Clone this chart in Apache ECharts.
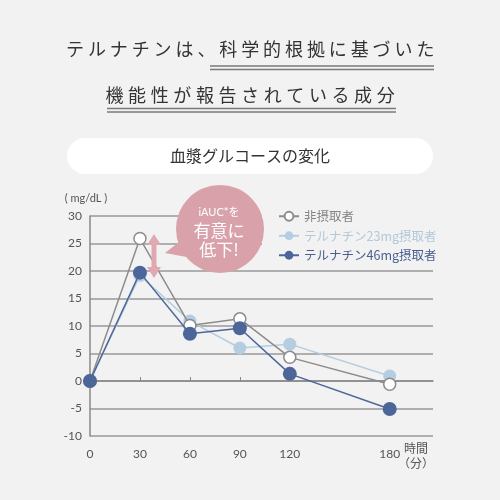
<!DOCTYPE html>
<html>
<head>
<meta charset="utf-8">
<script src="https://cdn.jsdelivr.net/npm/echarts@6/dist/echarts.min.js"></script>
<style>
  html, body { margin: 0; padding: 0; background: #f2f2f2; }
  #chart { width: 500px; height: 500px; }
</style>
</head>
<body>
<div id="chart"></div>
<script>
// minutes after intake
var times = [0, 30, 60, 90, 120, 180];
var tickTimes = [0, 30, 60, 90, 120, 180];
// blood glucose change (mg/dL)
var noIntake = [0, 25.9, 10.1, 11.3, 4.3, -0.6];
var dose23 = [0, 19.2, 10.9, 6.0, 6.7, 0.9];
var dose46 = [0, 19.7, 8.6, 9.6, 1.3, -5.1];
var seriesNames = ['非摂取者', 'テルナチン23mg摂取者', 'テルナチン46mg摂取者'];

var FONT = "Lato, 'Noto Sans CJK JP', sans-serif";
var JP = "'Noto Sans CJK JP', sans-serif";

function pairs(vals) {
  return times.map(function (t, i) { return [t, vals[i]]; });
}

// spaced-out heading text, one char at a time
function spacedText(str, x0, step, y) {
  return str.split('').map(function (ch, i) {
    return {
      type: 'text', x: x0 + i * step, y: y, z: 100,
      style: { text: ch, fill: '#333', font: '400 18px ' + JP, align: 'center', verticalAlign: 'middle' }
    };
  });
}

function doubleRule(x1, x2, y) {
  return [
    { type: 'line', z: 100, shape: { x1: x1, y1: y, x2: x2, y2: y }, style: { stroke: '#7a7a7a', lineWidth: 1.3 } },
    { type: 'line', z: 100, shape: { x1: x1, y1: y + 3.5, x2: x2, y2: y + 3.5 }, style: { stroke: '#7a7a7a', lineWidth: 1.3 } }
  ];
}

var pink = '#d9a2ab';
var graphics = []
  .concat(spacedText('テルナチンは、科学的根拠に基づいた', 75, 21.9, 49))
  .concat(doubleRule(210, 434, 66))
  .concat(spacedText('機能性が報告されている成分', 114.5, 22.6, 95))
  .concat(doubleRule(107, 396, 108.5))
  .concat([
    { type: 'rect', z: 100, shape: { x: 67, y: 138, width: 366, height: 36, r: 18 }, style: { fill: '#fff' } },
    { type: 'text', z: 101, x: 250, y: 156, style: { text: '血漿グルコースの変化', fill: '#333', font: '16px ' + JP, align: 'center', verticalAlign: 'middle' } },
    // speech bubble
    { type: 'polygon', z: 100, shape: { points: [[184, 238], [165, 253], [192, 258]] }, style: { fill: pink } },
    { type: 'circle', z: 100, shape: { cx: 220, cy: 229, r: 44 }, style: { fill: pink } },
    { type: 'text', z: 101, x: 219, y: 212, style: { text: 'iAUC*を', fill: '#fff', font: '11px ' + FONT, align: 'center', verticalAlign: 'middle' } },
    { type: 'text', z: 101, x: 219, y: 231, style: { text: '有意に', fill: '#fff', font: '17px ' + JP, align: 'center', verticalAlign: 'middle' } },
    { type: 'text', z: 101, x: 219, y: 250, style: { text: '低下!', fill: '#fff', font: '17px ' + JP, align: 'center', verticalAlign: 'middle' } },
    // double-headed arrow
    { type: 'polygon', z: 100, shape: { points: [
      [154, 234], [161, 245], [156.5, 245], [156.5, 267], [161, 267], [154, 278],
      [147, 267], [151.5, 267], [151.5, 245], [147, 245]
    ] }, style: { fill: '#e0a9b2' } },
    // axis captions
    { type: 'text', z: 100, x: 86, y: 198, style: { text: '( mg/dL )', fill: '#555', font: '11px ' + FONT, align: 'center', verticalAlign: 'middle' } },
    { type: 'text', z: 100, x: 416, y: 448, style: { text: '時間', fill: '#555', font: '12px ' + JP, align: 'center', verticalAlign: 'middle' } },
    { type: 'text', z: 100, x: 416, y: 463, style: { text: '（分）', fill: '#555', font: '12px ' + JP, align: 'center', verticalAlign: 'middle' } }
  ]);

var chart = echarts.init(document.getElementById('chart'));
chart.setOption({
  backgroundColor: '#f2f2f2',
  animation: false,
  textStyle: { fontFamily: FONT },
  grid: { left: 90, right: 67, top: 216, bottom: 64 },
  legend: {
    left: 262, top: 204,
    orient: 'vertical',
    backgroundColor: '#f2f2f2',
    padding: [6, 10, 6, 16],
    itemGap: 7,
    itemWidth: 20, itemHeight: 11,
    textStyle: { fontSize: 12.5, fontFamily: JP },
    data: [
      { name: seriesNames[0], textStyle: { color: '#858585' } },
      { name: seriesNames[1], textStyle: { color: '#b3c8d8' } },
      { name: seriesNames[2], textStyle: { color: '#4a5f8f' } }
    ]
  },
  xAxis: {
    type: 'value', min: 0, max: 206,
    axisLine: { show: true, lineStyle: { color: '#888', width: 1.5 } },
    axisTick: { show: true, inside: true, length: 4, customValues: tickTimes, lineStyle: { color: '#888' } },
    axisLabel: { customValues: tickTimes, color: '#555', fontSize: 12, margin: 12 },
    splitLine: { show: false }
  },
  yAxis: {
    type: 'value', min: -10, max: 30, interval: 5,
    axisLine: { show: true, lineStyle: { color: '#888', width: 1.5 } },
    axisTick: { show: false },
    axisLabel: { color: '#555', fontSize: 12, margin: 8 },
    splitLine: { lineStyle: { color: '#999', width: 1.5 } }
  },
  series: [
    {
      name: seriesNames[1], type: 'line', data: pairs(dose23), z: 3,
      symbol: 'circle', symbolSize: 13,
      lineStyle: { color: '#b4cde0', width: 1.5 },
      itemStyle: { color: '#b4cde0' }
    },
    {
      name: seriesNames[0], type: 'line', data: pairs(noIntake), z: 4,
      symbol: 'circle', symbolSize: 12,
      lineStyle: { color: '#8c8c8c', width: 1.5 },
      itemStyle: { color: '#fff', borderColor: '#8c8c8c', borderWidth: 1.5 }
    },
    {
      name: seriesNames[2], type: 'line', data: pairs(dose46), z: 5,
      symbol: 'circle', symbolSize: 14,
      lineStyle: { color: '#4c6699', width: 1.5 },
      itemStyle: { color: '#4c6699' }
    }
  ],
  graphic: graphics
});
</script>
</body>
</html>
